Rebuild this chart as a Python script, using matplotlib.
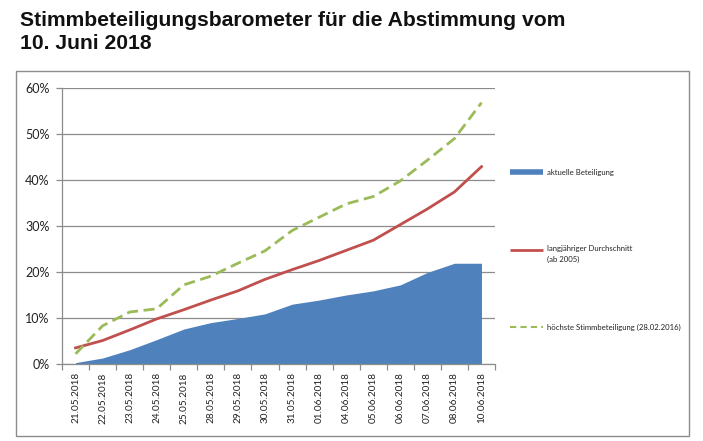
import matplotlib
matplotlib.use("Agg")
import matplotlib.pyplot as plt
from matplotlib.lines import Line2D
from matplotlib.patches import Rectangle
from matplotlib.ticker import PercentFormatter, FixedLocator

dates = ["21.05.2018", "22.05.2018", "23.05.2018", "24.05.2018", "25.05.2018",
         "28.05.2018", "29.05.2018", "30.05.2018", "31.05.2018", "01.06.2018",
         "04.06.2018", "05.06.2018", "06.06.2018", "07.06.2018", "08.06.2018",
         "10.06.2018"]
aktuell = [0.3, 1.3, 3.1, 5.3, 7.6, 9.0, 9.9, 10.9, 13.0, 13.9, 15.0, 15.9, 17.2, 19.9, 21.9, 21.9]
durchschnitt = [3.5, 5.1, 7.4, 9.8, 11.8, 13.9, 15.9, 18.4, 20.5, 22.5, 24.7, 26.9, 30.3, 33.7, 37.4, 42.9]
hoechste = [2.2, 8.3, 11.3, 12.0, 17.2, 19.1, 21.9, 24.6, 29.0, 31.9, 34.8, 36.4, 39.8, 44.3, 49.0, 56.8]
y_ticks = [0, 10, 20, 30, 40, 50, 60]
legend_labels = ["aktuelle Beteiligung", "langjähriger Durchschnitt\n(ab 2005)",
                 "höchste Stimmbeteiligung (28.02.2016)"]
title = "Stimmbeteiligungsbarometer für die Abstimmung vom\n10. Juni 2018"

W, H = 703, 441
fig = plt.figure(figsize=(W / 100, H / 100), dpi=100)
fig.patch.set_facecolor("white")

def fx(px):
    return px / W

def fy(py):
    return 1 - py / H

BLUE = "#4F81BD"
RED = "#C0504D"
GREEN = "#9BBB59"
GRID = "#8C8C8C"

# Outer frame
fig.patches.append(Rectangle((fx(16), fy(436)), fx(689) - fx(16), fy(71) - fy(436),
                             transform=fig.transFigure, fill=False,
                             edgecolor="#8C8C8C", linewidth=1.0))

fig.text(fx(20), fy(11), title, ha="left", va="top", fontsize=15.2,
         fontweight="bold", family="Liberation Sans", color="#111111",
         linespacing=1.25)

ax = fig.add_axes([fx(62), fy(364), fx(495) - fx(62), fy(88) - fy(364)])
x = list(range(len(dates)))
ax.fill_between(x, 0, aktuell, color=BLUE, linewidth=0, zorder=2)
ax.plot(x, durchschnitt, color=RED, linewidth=2.0, zorder=3)
ax.plot(x, hoechste, color=GREEN, linewidth=2.0, dashes=(4, 2), zorder=4)

ax.set_xlim(-0.5, len(dates) - 0.5)
ax.set_ylim(0, 60)
ax.set_yticks(y_ticks)
ax.yaxis.set_major_formatter(PercentFormatter(decimals=0))
ax.yaxis.grid(True, color=GRID, linewidth=0.9, zorder=0)
ax.set_axisbelow(True)

ax.set_xticks(x)
ax.set_xticklabels(dates, rotation=90, family="Lato", fontsize=7.2, color="#222222")
ax.tick_params(axis="x", which="major", length=0, pad=6)
ax.xaxis.set_minor_locator(FixedLocator([i - 0.5 for i in range(len(dates) + 1)]))
ax.tick_params(axis="x", which="minor", length=4, color=GRID, width=0.9)
ax.tick_params(axis="y", length=4, color=GRID, width=0.9, labelsize=9, pad=5,
               labelcolor="#222222")
for lab in ax.get_yticklabels():
    lab.set_family("Lato")

for s in ["top", "right"]:
    ax.spines[s].set_visible(False)
ax.spines["left"].set_color(GRID)
ax.spines["bottom"].set_color(GRID)
ax.spines["left"].set_linewidth(0.9)
ax.spines["bottom"].set_linewidth(0.9)

# Legend
lx0, lx1, tx = fx(510), fx(543), fx(547)
ys = [fy(172), fy(250), fy(327)]
fig.add_artist(Line2D([lx0, lx1], [ys[0], ys[0]], color=BLUE, linewidth=4,
                      transform=fig.transFigure, solid_capstyle="butt"))
fig.add_artist(Line2D([lx0, lx1], [ys[1], ys[1]], color=RED, linewidth=2,
                      transform=fig.transFigure, solid_capstyle="butt"))
fig.add_artist(Line2D([lx0, lx1], [ys[2], ys[2]], color=GREEN, linewidth=1.5,
                      dashes=(3, 2), transform=fig.transFigure))
fs_leg = 5.6
fig.text(tx, ys[0], legend_labels[0], ha="left", va="center", fontsize=fs_leg,
         family="Lato", color="#222222")
fig.text(tx, ys[1] + 0.011, legend_labels[1], ha="left", va="top", fontsize=fs_leg,
         family="Lato", color="#222222", linespacing=1.6)
fig.text(tx, ys[2], legend_labels[2], ha="left", va="center", fontsize=fs_leg,
         family="Lato", color="#222222")

fig.savefig("out.png", dpi=100, facecolor="white")
